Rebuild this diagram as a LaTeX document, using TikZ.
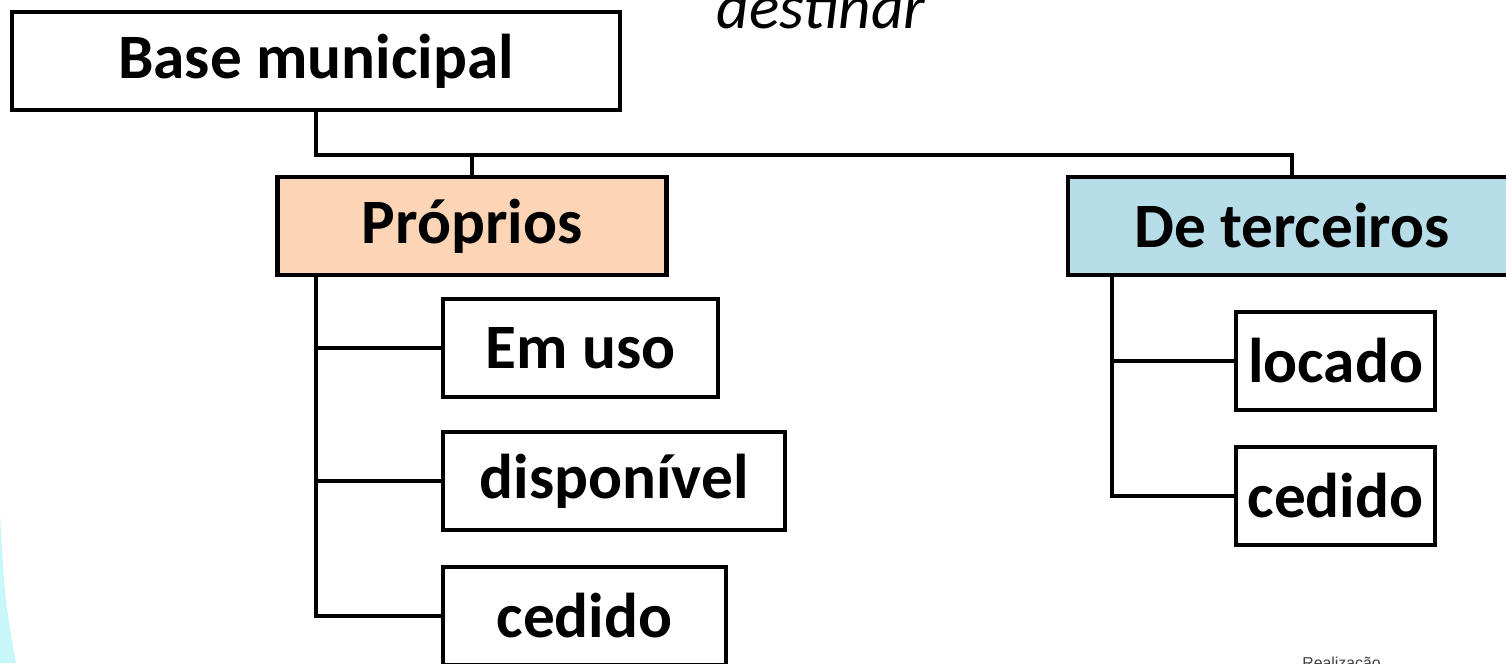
\documentclass[tikz,border=0pt]{standalone}
\usepackage{fontspec}
\setmainfont{Carlito}
\setsansfont{Liberation Sans}
\usepackage{xcolor}
\usetikzlibrary{positioning}
\definecolor{peach}{HTML}{FBD5B5}
\definecolor{sky}{HTML}{B7DEE8}
\definecolor{glow}{HTML}{C8F7FA}
\tikzset{
  box/.style={draw=black, line width=2.6pt, fill=white, minimum height=1.96cm,
    inner sep=0pt, font=\fontsize{36}{40}\selectfont\bfseries},
  link/.style={draw=black, line width=2.6pt},
  note/.style={font=\fontsize{36}{40}\selectfont\itshape, inner sep=0pt}
}

\begin{document}
\begin{tikzpicture}[x=0.02cm, y=-0.02cm]
  \useasboundingbox (0,0) rectangle (1506,663);
  \clip (0,0) rectangle (1506,663);
  \fill[white] (0,0) rectangle (1506,663);
  \fill[glow] (0,515) .. controls (5,600) .. (16,663) -- (0,663) -- cycle;

  \node[note, anchor=base] (dest) at (821,28) {destinar};

  % top level
  \node[box, minimum width=12.16cm] (base) at (316,61) {Base municipal};
  \node[box, fill=peach, minimum width=7.78cm] (prop) at (472,226) {Próprios};
  \node[box, fill=sky, minimum width=8.96cm] (terc) at (1292,226) {De terceiros};

  % proprios
  \node[box, minimum width=5.5cm] (emuso) at (580.5,348) {Em uso};
  \node[box, minimum width=6.84cm] (disp) at (614,481) {disponível};
  \node[box, minimum width=5.66cm] (ced1) at (584.5,616) {cedido};

  % de terceiros
  \node[box, minimum width=3.98cm] (loc) at (1335.5,361) {locado};
  \node[box, minimum width=3.98cm] (ced2) at (1335.5,496) {cedido};

  \coordinate (bus) at (316,155);
  \draw[link] (base.south) -- (bus) -| (terc.north);
  \draw[link] (prop.north) -- (prop.north |- bus);

  \coordinate (pt) at (316,276);
  \draw[link] (pt) |- (ced1.west);
  \draw[link] (emuso.west) -- (emuso.west -| pt);
  \draw[link] (disp.west) -- (disp.west -| pt);

  \coordinate (tt) at (1112,276);
  \draw[link] (tt) |- (ced2.west);
  \draw[link] (loc.west) -- (loc.west -| tt);

  \node[font=\sffamily\fontsize{9}{10}\selectfont, text=black!75, anchor=north west,
    inner sep=0pt] (real) at (1302,657) {Realização};
\end{tikzpicture}
\end{document}
